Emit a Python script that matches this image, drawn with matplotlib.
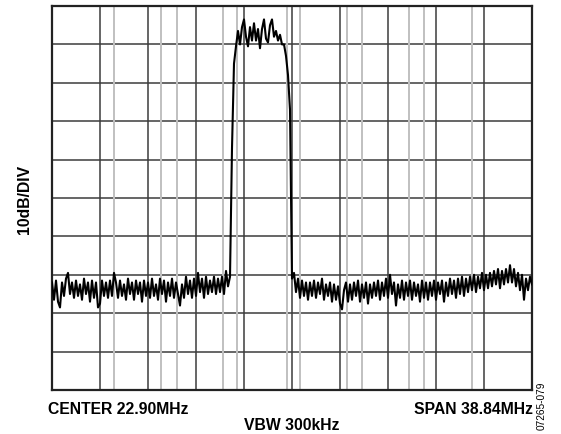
import numpy as np
import matplotlib.pyplot as plt

plt.rcParams['font.family'] = ['Liberation Sans', 'DejaVu Sans']

# analyzer settings
center_mhz = 22.90
span_mhz = 38.84
ref_db = 0.0
db_per_div = 10.0

# trace, dB (2 px sweep step)
trace_left = [
    -72.0, -76.5, -71.5, -77.0, -78.5, -72.0, -75.5, -71.0, -69.5, -75.0,
    -72.0, -76.0, -71.5, -75.5, -72.5, -76.5, -71.0, -75.0, -72.0, -77.0,
    -71.5, -76.0, -72.0, -78.5, -77.5, -71.5, -75.5, -72.0, -76.0, -71.5,
    -75.5, -69.5, -72.0, -76.0, -71.5, -75.5, -72.5, -76.5, -71.0, -75.0,
    -72.0, -76.5, -71.5, -75.0, -72.0, -77.0, -71.5, -75.5, -72.0, -76.0,
    -71.0, -75.5, -72.5, -76.5, -71.0, -75.0, -71.5, -77.0, -72.0, -75.5,
    -71.0, -76.0, -72.0, -75.0, -78.0, -72.5, -76.0, -70.5, -75.0, -71.5,
    -76.0, -71.0, -75.5, -69.5, -74.5, -71.0, -76.0, -70.5, -75.0, -71.5,
    -74.5, -70.5, -75.0, -71.0, -74.5, -70.5, -75.0, -69.0, -73.0, -70.5,
]
trace_band = [
    -37.0, -15.0, -10.5, -6.5, -10.0, -5.5, -3.5, -8.0, -10.5, -5.5,
    -9.0, -4.5, -9.0, -6.0, -11.0, -6.0, -3.5, -8.5, -9.5, -5.0,
    -3.5, -8.0, -6.5, -9.0, -7.5, -10.0, -10.0, -13.0, -18.0, -27.0,
]
trace_right = [
    -71.0, -69.5, -74.5, -71.0, -76.0, -71.5, -75.5, -72.0, -76.5, -72.0,
    -75.5, -71.5, -76.0, -72.0, -75.0, -71.0, -76.5, -72.5, -75.5, -72.0,
    -77.0, -72.5, -76.5, -73.0, -77.5, -79.0, -74.0, -72.0, -77.0, -72.5,
    -76.5, -72.0, -75.5, -71.5, -77.0, -72.5, -76.0, -72.0, -77.5, -72.5,
    -76.0, -72.0, -75.5, -71.5, -76.5, -72.0, -75.5, -71.0, -76.0, -70.0,
    -75.0, -72.0, -78.0, -72.5, -76.0, -71.5, -76.5, -72.0, -75.5, -71.5,
    -76.5, -72.0, -75.5, -72.5, -77.0, -71.5, -76.0, -72.0, -76.5, -72.0,
    -75.5, -71.5, -76.5, -72.0, -75.0, -71.5, -77.0, -72.0, -75.5, -71.0,
    -75.0, -71.5, -76.0, -71.0, -75.0, -70.5, -75.5, -71.0, -74.5, -70.5,
    -74.0, -70.0, -74.5, -70.5, -73.5, -69.5, -74.0, -70.0, -73.5, -69.5,
    -73.0, -69.0, -72.5, -68.5, -73.5, -69.0, -72.5, -68.5, -72.0, -67.5,
    -72.0, -68.5, -73.0, -69.5, -74.0, -70.0, -76.5, -71.0, -74.0, -70.5,
    -72.5,
]
trace_db = trace_left + trace_band + trace_right

# light gray marker lines on the screen, MHz
gray_marks_mhz = [8.49, 12.30, 13.58, 17.31, 18.43, 22.51,
                  23.56, 27.37, 28.57, 32.38, 33.58, 37.47]

f_start = center_mhz - span_mhz / 2
f_stop = center_mhz + span_mhz / 2
freq = np.linspace(f_start, f_stop, len(trace_db))

fig = plt.figure(figsize=(5.61, 4.34), dpi=100)
ax = fig.add_axes([52 / 561, 44 / 434, 480 / 561, 384 / 434])

ax.set_xlim(f_start, f_stop)
ax.set_ylim(ref_db - 10 * db_per_div, ref_db)
ax.set_xticks(np.linspace(f_start, f_stop, 11))
ax.set_yticks(np.linspace(ref_db - 10 * db_per_div, ref_db, 11))
ax.tick_params(length=0, labelbottom=False, labelleft=False)

for f in gray_marks_mhz:
    ax.axvline(f, color='#c0c0c0', lw=1.4, zorder=1)
ax.grid(True, color='#3c3c3c', lw=1.1, zorder=2)
ax.set_axisbelow(True)

ax.plot(freq, trace_db, color='black', lw=1.5, zorder=3)

for s in ax.spines.values():
    s.set_linewidth(1.6)
    s.set_color('#222222')

fig.text(25 / 561, 1 - 199 / 434, '10dB/DIV', rotation=90, ha='center', va='center',
         fontsize=11.3, fontweight='bold')
fig.text(48 / 561, 1 - 413.5 / 434, 'CENTER %.2fMHz' % center_mhz, ha='left', va='baseline',
         fontsize=11.3, fontweight='bold')
fig.text(533 / 561, 1 - 413.5 / 434, 'SPAN %.2fMHz' % span_mhz, ha='right', va='baseline',
         fontsize=11.3, fontweight='bold')
fig.text(291.5 / 561, 1 - 430 / 434, 'VBW 300kHz', ha='center', va='baseline',
         fontsize=11.3, fontweight='bold')
fig.text(542 / 561, 1 - 382 / 434, '07265-079', rotation=90, ha='center', va='top',
         fontsize=7.3)

fig.savefig('out.png', dpi=100)
